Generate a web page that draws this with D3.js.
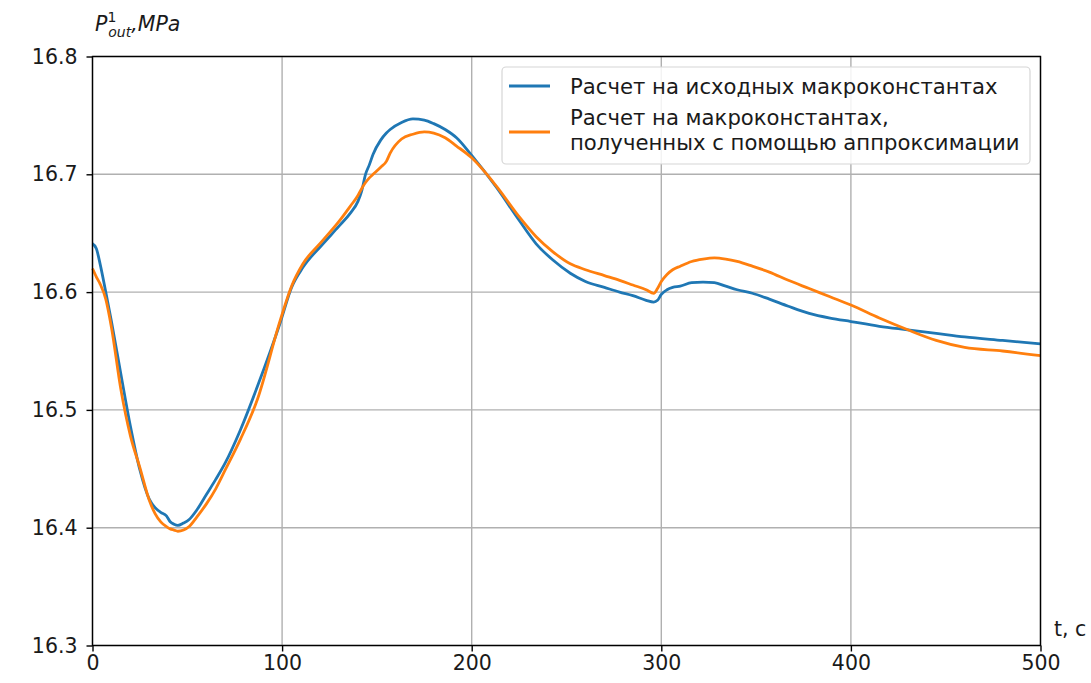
<!DOCTYPE html>
<html>
<head>
<meta charset="utf-8">
<script src="https://cdn.jsdelivr.net/npm/d3@7"></script>
<style>
  html, body { margin: 0; padding: 0; background: #fff; }
  svg text { font-family: "DejaVu Sans", sans-serif; fill: #1a1a1a; }
</style>
</head>
<body>
<svg id="chart" width="1091" height="683"></svg>
<script>
// Time grid, s
const times = [0, 2, 4, 7, 10, 15, 20, 25, 30, 33, 36, 39, 41, 43, 45, 48, 51, 55, 60, 65, 70, 78, 87, 99, 105, 111, 121, 130, 136, 140, 142, 144, 146, 148, 152, 155, 157, 163, 169, 175, 180, 186, 192, 200, 213, 225, 234, 243, 252, 260, 270, 278, 285, 292, 296, 298, 300, 303, 306, 310, 316, 322, 328, 334, 340, 348, 357, 367, 378, 389, 400, 415, 430, 445, 460, 480, 500];

// Outlet pressure computed with the original macro-constants, MPa
const pressureOriginal = [16.641, 16.637, 16.624, 16.600, 16.575, 16.530, 16.486, 16.449, 16.424, 16.417, 16.413, 16.410, 16.405, 16.403, 16.402, 16.404, 16.407, 16.415, 16.428, 16.441, 16.455, 16.483, 16.520, 16.574, 16.604, 16.621, 16.640, 16.656, 16.667, 16.677, 16.686, 16.700, 16.708, 16.717, 16.729, 16.735, 16.738, 16.744, 16.747, 16.746, 16.743, 16.738, 16.731, 16.716, 16.689, 16.661, 16.641, 16.627, 16.616, 16.609, 16.604, 16.600, 16.597, 16.593, 16.5915, 16.593, 16.598, 16.602, 16.604, 16.605, 16.608, 16.6085, 16.608, 16.605, 16.602, 16.599, 16.594, 16.588, 16.582, 16.578, 16.575, 16.571, 16.568, 16.565, 16.562, 16.559, 16.556];

// Outlet pressure computed with the approximated macro-constants, MPa
const pressureApprox = [16.620, 16.613, 16.607, 16.594, 16.570, 16.517, 16.478, 16.451, 16.423, 16.412, 16.405, 16.401, 16.399, 16.398, 16.397, 16.398, 16.401, 16.409, 16.420, 16.433, 16.449, 16.475, 16.509, 16.576, 16.605, 16.624, 16.643, 16.660, 16.673, 16.682, 16.688, 16.693, 16.697, 16.700, 16.706, 16.711, 16.718, 16.730, 16.734, 16.736, 16.735, 16.731, 16.724, 16.714, 16.690, 16.664, 16.647, 16.634, 16.624, 16.619, 16.614, 16.610, 16.606, 16.602, 16.599, 16.603, 16.609, 16.615, 16.619, 16.622, 16.626, 16.628, 16.629, 16.628, 16.626, 16.622, 16.617, 16.610, 16.603, 16.596, 16.589, 16.578, 16.568, 16.559, 16.553, 16.550, 16.546];

const xTicks = [0, 100, 200, 300, 400, 500];
const yTicks = [16.3, 16.4, 16.5, 16.6, 16.7, 16.8];

const seriesNames = [
  ["Расчет на исходных макроконстантах"],
  ["Расчет на макроконстантах,", "полученных с помощью аппроксимации"]
];
const seriesColors = ["#1f77b4", "#ff7f0e"];

const FS = 20.5;
const LEGEND_FS = 21.2;

const svg = d3.select("#chart");
const plot = { left: 92.5, top: 56.5, right: 1040.5, bottom: 645.5 };

const x = d3.scaleLinear().domain([0, 500]).range([plot.left, plot.right]);
const y = d3.scaleLinear().domain([16.3, 16.8]).range([plot.bottom, plot.top]);

// grid
const grid = svg.append("g");
grid.selectAll(".gx").data(xTicks).join("line")
  .attr("x1", d => x(d)).attr("x2", d => x(d))
  .attr("y1", plot.top).attr("y2", plot.bottom)
  .attr("stroke", "#b0b0b0").attr("stroke-width", 1.4);
grid.selectAll(".gy").data(yTicks).join("line")
  .attr("x1", plot.left).attr("x2", plot.right)
  .attr("y1", d => y(d)).attr("y2", d => y(d))
  .attr("stroke", "#b0b0b0").attr("stroke-width", 1.4);

// curves
const series = [pressureOriginal, pressureApprox];
const line = d3.line()
  .x((d, i) => x(times[i]))
  .y(d => y(d))
  .curve(d3.curveMonotoneX);

svg.append("g").selectAll("path").data(series).join("path")
  .attr("d", d => line(d))
  .attr("fill", "none")
  .attr("stroke", (d, i) => seriesColors[i])
  .attr("stroke-width", 2.8)
  .attr("stroke-linejoin", "round");

// frame
svg.append("rect")
  .attr("x", plot.left).attr("y", plot.top)
  .attr("width", plot.right - plot.left).attr("height", plot.bottom - plot.top)
  .attr("fill", "none").attr("stroke", "#000").attr("stroke-width", 1.4);

// axes
const xAxis = d3.axisBottom(x).tickValues(xTicks).tickFormat(d3.format("d")).tickSize(6).tickPadding(4);
const yAxis = d3.axisLeft(y).tickValues(yTicks).tickFormat(d3.format(".1f")).tickSize(6).tickPadding(9);

const gx = svg.append("g").attr("transform", `translate(0,${plot.bottom})`).call(xAxis);
const gy = svg.append("g").attr("transform", `translate(${plot.left},0)`).call(yAxis);
[gx, gy].forEach(g => {
  g.select(".domain").remove();
  g.selectAll(".tick line").attr("stroke", "#000").attr("stroke-width", 1.4);
  g.selectAll(".tick text").attr("font-size", FS).attr("fill", "#1a1a1a")
    .attr("font-family", "DejaVu Sans, sans-serif");
});

// axis labels
const yl = svg.append("text").attr("x", 95).attr("y", 31).attr("font-size", FS).attr("font-style", "italic");
yl.append("tspan").text("P");
yl.append("tspan").attr("dy", -9).attr("font-size", 14).attr("font-style", "normal").text("1");
yl.append("tspan").attr("dx", -8).attr("dy", 15).attr("font-size", 14).text("out");
yl.append("tspan").attr("dy", -6).text(",MPa");

svg.append("text").attr("x", 1054).attr("y", 636).attr("font-size", FS).text("t, c");

// legend
const legend = svg.append("g");
legend.append("rect")
  .attr("x", 502).attr("y", 67).attr("width", 528).attr("height", 97)
  .attr("rx", 4).attr("fill", "#fff").attr("fill-opacity", 0.85)
  .attr("stroke", "#d6d6d6").attr("stroke-width", 1.2);

const rowY = [86, 132];
const textY = [[94], [125, 150]];
seriesNames.forEach((lines, i) => {
  legend.append("line")
    .attr("x1", 509).attr("x2", 550)
    .attr("y1", rowY[i]).attr("y2", rowY[i])
    .attr("stroke", seriesColors[i]).attr("stroke-width", 2.8);
  lines.forEach((t, j) => {
    legend.append("text").attr("x", 570).attr("y", textY[i][j])
      .attr("font-size", LEGEND_FS).text(t);
  });
});
</script>
</body>
</html>
